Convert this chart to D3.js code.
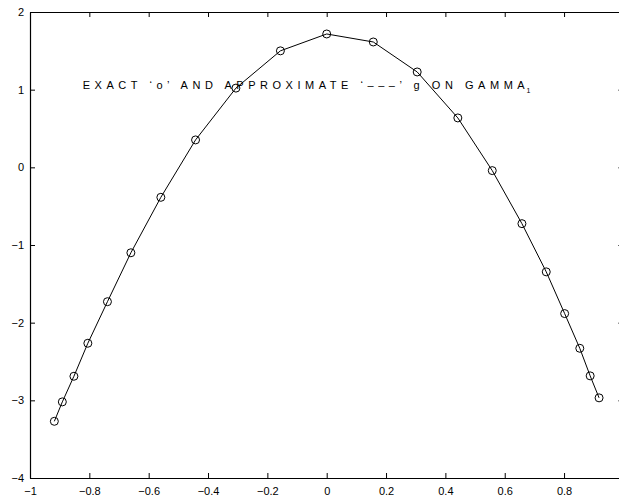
<!DOCTYPE html>
<html>
    <head>
        <meta charset="UTF-8">
        <script src="https://d3js.org/d3.v7.min.js"></script>
        <style>
            body { margin: 0; background: #fff; }
            text { font-family: "Liberation Sans", Arial, sans-serif; }
        </style>
    </head>

    <body>

        <svg id="canvas"></svg>

        <script>

            width = 619;
            height = 502;

            // exact g values (circles), joined by the approximate line
            xs = [-0.918, -0.891, -0.852, -0.805, -0.739, -0.660, -0.559, -0.442, -0.306, -0.156,
                  0, 0.157, 0.305, 0.442, 0.558, 0.658, 0.740, 0.802, 0.853, 0.888, 0.918];
            gs = [-3.27, -3.02, -2.69, -2.265, -1.73, -1.10, -0.386, 0.353, 1.02, 1.50,
                  1.717, 1.614, 1.228, 0.636, -0.042, -0.725, -1.346, -1.883, -2.33, -2.685, -2.968];

            xTicks = [-1, -0.8, -0.6, -0.4, -0.2, 0, 0.2, 0.4, 0.6, 0.8];
            yTicks = [-4, -3, -2, -1, 0, 1, 2];

            data = xs.map((x, i) => [x, gs[i]]);

            canvas = d3.select("#canvas")
                .attr("width", width)
                .attr("height", height);

            x = d3.scaleLinear().domain([-1, 1]).range([30, 623.4]);
            y = d3.scaleLinear().domain([-4, 2]).range([478, 12]);

            fmt = (d) => d3.format("")(d).replace("-", "\u2212");

            bottom = canvas.append("g")
                .attr("transform", "translate(0," + y(-4) + ")")
                .call(d3.axisBottom(x).tickValues(xTicks).tickFormat(fmt)
                    .tickSizeInner(-5).tickSizeOuter(0).tickPadding(9));
            top_ = canvas.append("g")
                .attr("transform", "translate(0," + y(2) + ")")
                .call(d3.axisTop(x).tickValues(xTicks).tickFormat("")
                    .tickSizeInner(-5).tickSizeOuter(0));
            left = canvas.append("g")
                .attr("transform", "translate(" + x(-1) + ",0)")
                .call(d3.axisLeft(y).tickValues(yTicks).tickFormat(fmt)
                    .tickSizeInner(-5).tickSizeOuter(0).tickPadding(6));
            right = canvas.append("g")
                .attr("transform", "translate(" + x(1) + ",0)")
                .call(d3.axisRight(y).tickValues(yTicks).tickFormat("")
                    .tickSizeInner(-5).tickSizeOuter(0));

            canvas.selectAll(".domain").attr("stroke", "#000").attr("stroke-width", 1.2);
            canvas.selectAll(".tick line").attr("stroke", "#000");
            canvas.selectAll(".tick text")
                .attr("fill", "#000")
                .style("font-size", "11px")
                .style("font-family", "'Liberation Sans', Arial, sans-serif");

            line = d3.line().x((d) => x(d[0])).y((d) => y(d[1]));

            canvas.append("path")
                .datum(data)
                .attr("d", line)
                .attr("style", "fill:none; stroke:black; stroke-width:1;");

            canvas.selectAll("circle")
                .data(data)
                .enter()
                    .append("circle")
                        .attr("cx", (d) => x(d[0]))
                        .attr("cy", (d) => y(d[1]))
                        .attr("r", 4)
                        .attr("style", "fill:none; stroke:black; stroke-width:1;");

            title = canvas.append("text")
                .attr("x", 82.7)
                .attr("y", 89)
                .attr("textLength", 442)
                .attr("lengthAdjust", "spacing")
                .style("font-size", "11px")
                .attr("fill", "#000")
                .text("EXACT \u2018o\u2019 AND APPROXIMATE \u2018\u2013\u2013\u2013\u2019 g ON GAMMA");
            canvas.append("text")
                .attr("x", 526.5)
                .attr("y", 93)
                .style("font-size", "7px")
                .attr("fill", "#000")
                .text("1");

        </script>

    </body>

</html>
